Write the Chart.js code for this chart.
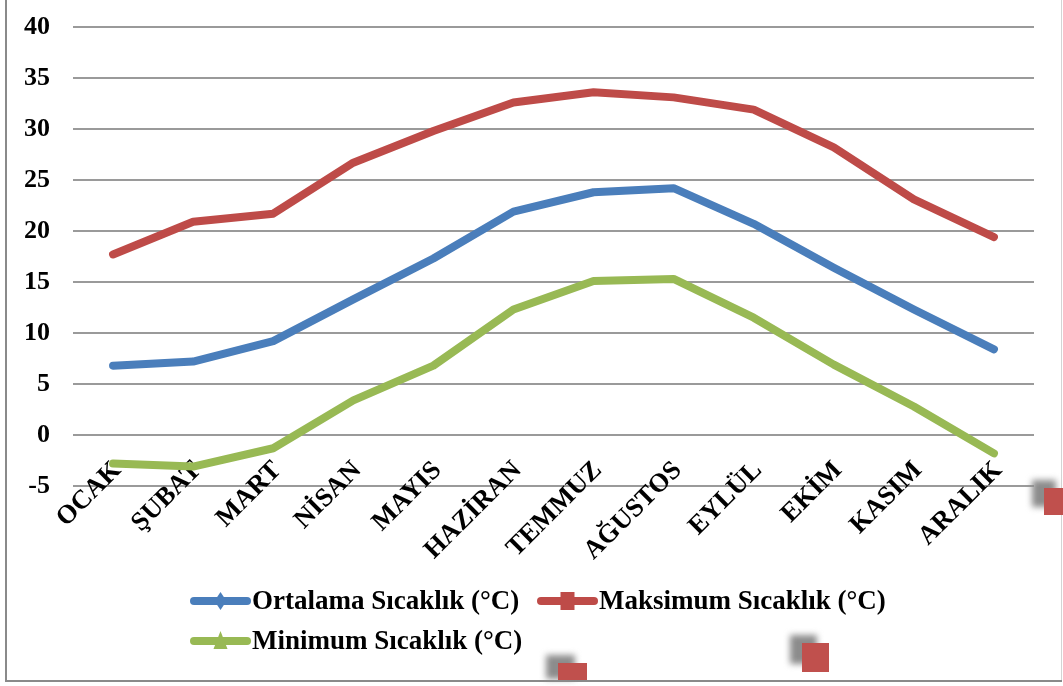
<!DOCTYPE html>
<html>
<head>
<meta charset="utf-8">
<script src="https://cdn.jsdelivr.net/npm/chart.js@4"></script>
<style>
html,body{margin:0;padding:0;background:#fff;}
#wrap{width:1063px;height:686px;position:relative;}
canvas{display:block;}
</style>
</head>
<body>
<div id="wrap"><canvas id="c" width="1063" height="686"></canvas></div>
<script>
// ---- data ----
const categories = ['OCAK','ŞUBAT','MART','NİSAN','MAYIS','HAZİRAN','TEMMUZ','AĞUSTOS','EYLÜL','EKİM','KASIM','ARALIK'];
const ortalama = [6.8, 7.2, 9.2, 13.3, 17.3, 21.9, 23.8, 24.2, 20.7, 16.4, 12.3, 8.4];
const maksimum = [17.7, 20.9, 21.7, 26.7, 29.8, 32.6, 33.6, 33.1, 31.9, 28.2, 23.1, 19.4];
const minimum = [-2.8, -3.1, -1.3, 3.4, 6.8, 12.3, 15.1, 15.3, 11.5, 6.9, 2.8, -1.8];
const seriesNames = ['Ortalama Sıcaklık (°C)', 'Maksimum Sıcaklık (°C)', 'Minimum Sıcaklık (°C)'];
const yMin = -5, yMax = 40, yStep = 5;

// ---- styles ----
const colors = ['#4A7EBB', '#BE4B48', '#98B954'];
const markerShapes = ['diamond', 'square', 'triangle'];
const FONT = '"Liberation Serif", "Times New Roman", serif';
const xLabelFontSize = 26.5;
const xLabelTop = 455;
const xLabelShift = -7;
const legendFontSize = 27;
const legendLayout = [{x: 190, y: 601}, {x: 537, y: 601}, {x: 190, y: 641}];
const decoSquares = [
  {x: 1044, y: 488, w: 24, h: 27},
  {x: 558, y: 663, w: 29, h: 24},
  {x: 802, y: 643, w: 27, h: 29}
];

// category labels, rotated 45deg, positioned by the x scale
const xLabelPlugin = {
  id: 'xLabels',
  beforeDatasetsDraw(chart) {
    const ctx = chart.ctx;
    const xs = chart.scales.x;
    ctx.save();
    ctx.fillStyle = '#000';
    ctx.font = 'bold ' + xLabelFontSize + 'px ' + FONT;
    ctx.textAlign = 'right';
    ctx.textBaseline = 'middle';
    chart.data.labels.forEach((lab, i) => {
      const px = xs.getPixelForValue(i);
      ctx.save();
      ctx.translate(px + xLabelShift, xLabelTop);
      ctx.rotate(-Math.PI / 4);
      ctx.fillText(lab, 0, xLabelFontSize * 0.6);
      ctx.restore();
    });
    ctx.restore();
  }
};

const legendPlugin = {
  id: 'customLegend',
  afterDraw(chart) {
    const ctx = chart.ctx;
    ctx.save();
    chart.data.datasets.forEach((ds, i) => {
      const p = legendLayout[i];
      const len = 61;
      ctx.strokeStyle = ds.borderColor;
      ctx.lineWidth = 8;
      ctx.lineCap = 'round';
      ctx.beginPath();
      ctx.moveTo(p.x + 4, p.y);
      ctx.lineTo(p.x + len - 4, p.y);
      ctx.stroke();
      const cx = p.x + len / 2, cy = p.y;
      ctx.fillStyle = ds.borderColor;
      ctx.beginPath();
      if (markerShapes[i] === 'diamond') {
        ctx.moveTo(cx, cy - 9); ctx.lineTo(cx + 6, cy); ctx.lineTo(cx, cy + 9); ctx.lineTo(cx - 6, cy);
      } else if (markerShapes[i] === 'square') {
        ctx.rect(cx - 7, cy - 9, 14, 18);
      } else {
        ctx.moveTo(cx, cy - 10); ctx.lineTo(cx + 7, cy + 8); ctx.lineTo(cx - 7, cy + 8);
      }
      ctx.closePath();
      ctx.fill();
      ctx.fillStyle = '#000';
      ctx.font = 'bold ' + legendFontSize + 'px ' + FONT;
      ctx.textBaseline = 'middle';
      ctx.textAlign = 'left';
      ctx.fillText(ds.label, p.x + len + 1, p.y + 1);
    });
    ctx.restore();
  }
};

const framePlugin = {
  id: 'frame',
  afterDraw(chart) {
    const ctx = chart.ctx;
    ctx.save();
    ctx.strokeStyle = '#8a8a8a';
    ctx.lineWidth = 2;
    ctx.beginPath();
    ctx.moveTo(6, 0); ctx.lineTo(6, 681); ctx.lineTo(1062, 681);
    ctx.stroke();
    ctx.strokeStyle = '#d4d4d4';
    ctx.lineWidth = 1;
    ctx.beginPath();
    ctx.moveTo(1061.5, 0); ctx.lineTo(1061.5, 680);
    ctx.stroke();
    decoSquares.forEach(s => {
      ctx.save();
      ctx.filter = 'blur(3px)';
      ctx.fillStyle = '#8c8c8c';
      ctx.fillRect(s.x - 12, s.y - 8, s.w, s.h);
      ctx.restore();
      ctx.fillStyle = '#C0504D';
      ctx.fillRect(s.x, s.y, s.w, Math.min(s.h, 680 - s.y));
    });
    ctx.restore();
  }
};

const makeDs = (label, data, i) => ({
  label, data,
  borderColor: colors[i],
  backgroundColor: colors[i],
  borderWidth: 8,
  borderCapStyle: 'round',
  borderJoinStyle: 'round',
  pointRadius: 0,
  pointHoverRadius: 0,
  tension: 0,
  fill: false
});

new Chart(document.getElementById('c'), {
  type: 'line',
  data: {
    labels: categories,
    datasets: [
      makeDs(seriesNames[0], ortalama, 0),
      makeDs(seriesNames[1], maksimum, 1),
      makeDs(seriesNames[2], minimum, 2)
    ]
  },
  options: {
    responsive: false,
    animation: false,
    devicePixelRatio: 1,
    layout: {padding: {top: 27, right: 29, bottom: 0, left: 0}},
    plugins: {legend: {display: false}, tooltip: {enabled: false}},
    scales: {
      x: {
        type: 'category',
        offset: true,
        grid: {display: false, drawTicks: false},
        border: {display: false},
        ticks: {display: false, autoSkip: false},
        afterFit(s) { s.height = 200; s.paddingLeft = 0; s.paddingRight = 0; }
      },
      y: {
        min: yMin,
        max: yMax,
        ticks: {
          stepSize: yStep,
          padding: 23,
          color: '#000',
          font: {family: FONT, weight: 'bold', size: 26}
        },
        grid: {color: '#9a9a9a', lineWidth: 2, drawTicks: false},
        border: {display: false},
        afterFit(s) { s.width = 73; s.paddingTop = 0; s.paddingBottom = 0; }
      }
    }
  },
  plugins: [xLabelPlugin, legendPlugin, framePlugin]
});
</script>
</body>
</html>
